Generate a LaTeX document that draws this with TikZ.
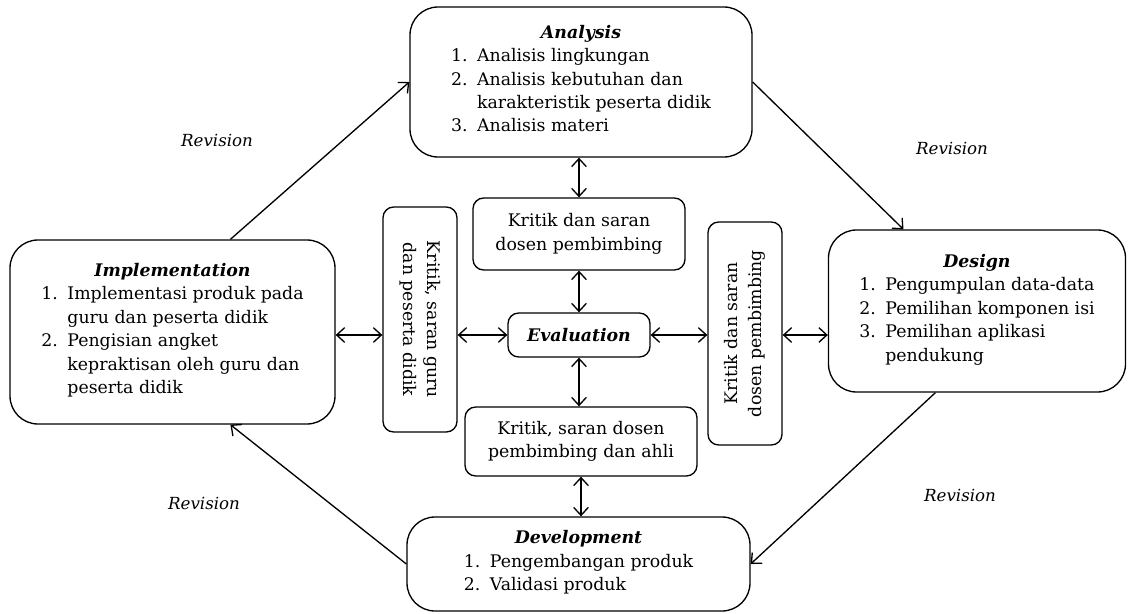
\documentclass[tikz,border=0pt]{standalone}
\usepackage{fontspec}
\usepackage{graphicx}
\setmainfont{DejaVu Serif}
\usetikzlibrary{positioning,arrows.meta}

\newcommand{\steplist}[1]{\begin{tabular}[t]{@{}r@{\hspace{0.55em}}l@{}}#1\end{tabular}}

\tikzset{
  stage/.style={draw, line width=1pt, rounded corners=21pt, align=center, inner sep=0pt},
  note/.style={draw, line width=1pt, rounded corners=8pt, align=center, inner sep=0pt},
  link/.style={line width=1pt, {Straight Barb[length=6pt,width=11pt]}-{Straight Barb[length=6pt,width=11pt]}},
  rev/.style={line width=1pt, -{Straight Barb[length=6pt,width=11pt]}},
  revlabel/.style={font=\fontsize{12.5}{14}\selectfont\itshape}
}

\begin{document}
\begin{tikzpicture}[x=0.75pt, y=-0.75pt, font=\fontsize{13}{17.6}\selectfont]
  \useasboundingbox (0,0) rectangle (1132,614);

  % main stages
  \node[stage, minimum width=256.5pt, minimum height=112.5pt] (analysis) at (581,82) {%
    {\bfseries\itshape Analysis}\\
    \steplist{1. & Analisis lingkungan\\
              2. & Analisis kebutuhan dan\\
                 & karakteristik peserta didik\\
              3. & Analisis materi}};
  \node[stage, minimum width=243.75pt, minimum height=138pt] (impl) at (172.5,332) {%
    {\bfseries\itshape Implementation}\\
    \steplist{1. & Implementasi produk pada\\
                 & guru dan peserta didik\\
              2. & Pengisian angket\\
                 & kepraktisan oleh guru dan\\
                 & peserta didik}};
  \node[stage, minimum width=222.75pt, minimum height=121.5pt] (design) at (977,311) {%
    {\bfseries\itshape Design}\\
    \steplist{1. & Pengumpulan data-data\\
              2. & Pemilihan komponen isi\\
              3. & Pemilihan aplikasi\\
                 & pendukung}};
  \node[stage, minimum width=257.25pt, minimum height=70.5pt] (devel) at (578.5,564) {%
    {\bfseries\itshape Development}\\
    \steplist{1. & Pengembangan produk\\
              2. & Validasi produk}};

  % evaluation and feedback boxes
  \node[note, minimum width=106.5pt, minimum height=33pt] (eval) at (579,335) {\bfseries\itshape Evaluation};
  \node[note, minimum width=159pt, minimum height=54pt] (topnote) at (579,234) {Kritik dan saran\\dosen pembimbing};
  \node[note, minimum width=174pt, minimum height=51.75pt] (botnote) at (581,441.5) {Kritik, saran dosen\\pembimbing dan ahli};
  \node[note, minimum width=55.5pt, minimum height=168.75pt] (leftnote) at (420,319.5)
    {\rotatebox{-90}{\begin{tabular}{@{}c@{}}Kritik, saran guru\\dan peserta didik\end{tabular}}};
  \node[note, minimum width=55.5pt, minimum height=167.25pt] (rightnote) at (745,333.5)
    {\rotatebox{90}{\begin{tabular}{@{}c@{}}Kritik dan saran\\dosen pembimbing\end{tabular}}};

  % two-way links
  \draw[link] (topnote.north) -- (topnote.north |- analysis.south);
  \draw[link] (eval.north) -- (eval.north |- topnote.south);
  \draw[link] (eval.south) -- (eval.south |- botnote.north);
  \draw[link] (botnote.south) -- (botnote.south |- devel.north);
  \draw[link] (eval.west) -- (eval.west -| leftnote.east);
  \draw[link] (eval.west -| leftnote.west) -- (eval.west -| impl.east);
  \draw[link] (eval.east) -- (eval.east -| rightnote.west);
  \draw[link] (eval.east -| rightnote.east) -- (eval.east -| design.west);

  % revision cycle
  \draw[rev] (impl.58) -- (analysis.west);
  \draw[rev] (analysis.east) -- (design.132);
  \draw[rev] (design.243) -- (devel.east);
  \draw[rev] (devel.west) -- (impl.302);

  \node[revlabel] (rev1) at (217,140) {Revision};
  \node[revlabel] (rev2) at (952,148) {Revision};
  \node[revlabel] (rev3) at (204,503) {Revision};
  \node[revlabel] (rev4) at (960,495) {Revision};
\end{tikzpicture}
\end{document}
